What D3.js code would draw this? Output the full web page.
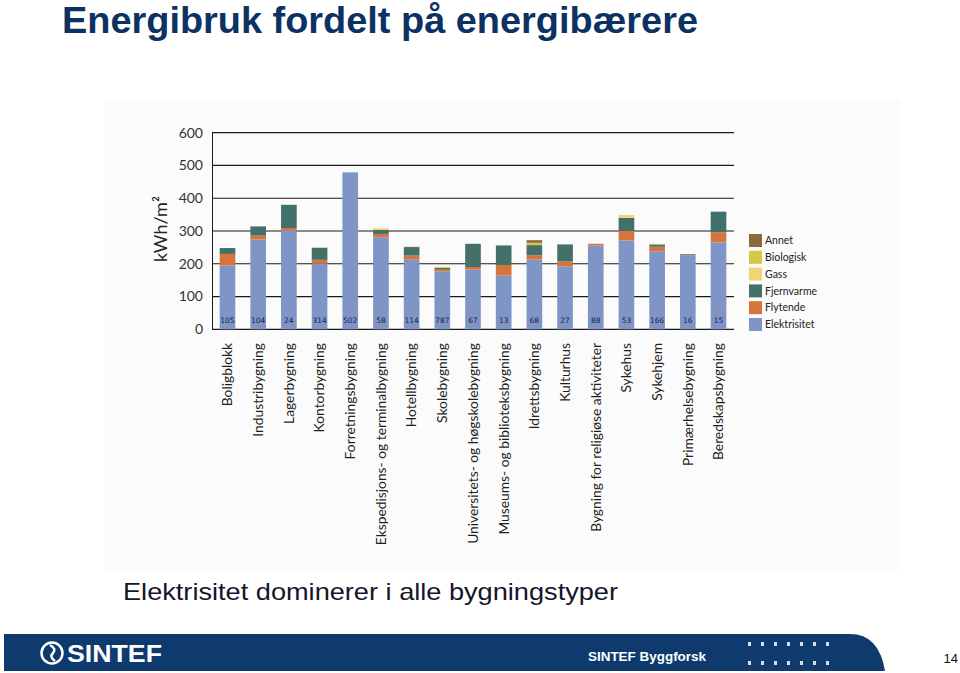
<!DOCTYPE html>
<html><head><meta charset="utf-8">
<script src="https://cdn.jsdelivr.net/npm/d3@7"></script>
<style>html,body{margin:0;padding:0;background:#fff;}svg{display:block;}</style>
</head><body>
<svg id="c" width="960" height="673"></svg>
<script>
const categories = ["Boligblokk","Industribygning","Lagerbygning","Kontorbygning","Forretningsbygning","Ekspedisjons- og terminalbygning","Hotellbygning","Skolebygning","Universitets- og høgskolebygning","Museums- og biblioteksbygning","Idrettsbygning","Kulturhus","Bygning for religiøse aktiviteter","Sykehus","Sykehjem","Primærhelsebygning","Beredskapsbygning"];
const elektrisitet = [195,274,302,200,479,281,214,176,182,164,213,192,256,271,238,226,265];
const flytende     = [35,12,7,12,0,10,11,6,8,32,13,15,5,29,14,0,31];
const fjernvarme   = [18,28,71,37,0,12,26,6,71,60,31,52,0,40,7,3,63];
const gass         = [0,0,0,0,0,5,2,3,0,0,0,0,0,9,2,0,0];
const biologisk    = [0,0,0,0,0,0,0,0,0,0,7,0,0,0,0,0,0];
const annet        = [0,0,0,0,0,0,0,0,0,0,8,0,0,0,0,0,0];
const antall       = [105,104,24,314,502,58,114,787,67,13,68,27,88,53,166,16,15];
const seriesNames  = ["Elektrisitet","Flytende","Fjernvarme","Gass","Biologisk","Annet"];
const seriesColors = ["#7f95c5","#d8733b","#44706a","#eed673","#d4c84a","#8d6a3c"];
const yTicks = [0,100,200,300,400,500,600];

const seriesArrays = [elektrisitet,flytende,fjernvarme,gass,biologisk,annet];
const rows = categories.map((c,i)=>{const r={cat:c,n:antall[i]};seriesNames.forEach((s,k)=>r[s]=seriesArrays[k][i]);return r;});

const svg = d3.select("#c");
const navy = "#0c3263";

// Title
svg.append("text").attr("x",62).attr("y",33)
  .attr("font-family","Liberation Sans, Arial, sans-serif").attr("font-weight","bold")
  .attr("font-size",36).attr("fill",navy)
  .attr("textLength",636).attr("lengthAdjust","spacingAndGlyphs")
  .text("Energibruk fordelt på energibærere");

// chart image background
svg.append("rect").attr("x",105).attr("y",100).attr("width",795).attr("height",470).attr("fill","#fbfbfb");

const x = d3.scaleBand().domain(categories).range([212,734]).paddingInner(0.49).paddingOuter(0.25);
const y = d3.scaleLinear().domain([0,600]).range([329.3,132.7]);

// grid lines
svg.append("g").selectAll("line").data(yTicks).join("line")
  .attr("x1",212).attr("x2",734).attr("y1",d=>y(d)).attr("y2",d=>y(d))
  .attr("stroke","#1a1a1a").attr("stroke-width",1.2);
svg.append("line").attr("x1",212.5).attr("x2",212.5).attr("y1",y(600)).attr("y2",y(0)).attr("stroke","#1a1a1a");

// y tick labels
svg.append("g").selectAll("text").data(yTicks).join("text")
  .attr("x",203).attr("y",d=>y(d)).attr("dy","0.35em").attr("text-anchor","end")
  .attr("font-family","Lato, sans-serif").attr("font-size",14).attr("fill","#333")
  .text(d=>d);

// y title
svg.append("text").attr("transform","translate(167,229) rotate(-90)").attr("text-anchor","middle")
  .attr("font-family","Lato, sans-serif").attr("font-size",18).attr("fill","#222")
  .text("kWh/m²");

// stacked bars
const stack = d3.stack().keys(seriesNames)(rows);
svg.append("g").selectAll("g").data(stack).join("g")
  .attr("fill",(d,i)=>seriesColors[i])
  .selectAll("rect").data(d=>d).join("rect")
  .attr("x",d=>x(d.data.cat)).attr("width",x.bandwidth())
  .attr("y",d=>y(d[1])).attr("height",d=>Math.max(0,y(d[0])-y(d[1])));

// counts
svg.append("g").selectAll("text").data(rows).join("text")
  .attr("x",d=>x(d.cat)+x.bandwidth()/2).attr("y",322.5).attr("text-anchor","middle")
  .attr("font-family","DejaVu Sans, sans-serif").attr("font-size",7.5).attr("fill","#1b1f45")
  .text(d=>d.n);

// category labels
svg.append("g").selectAll("text").data(categories).join("text")
  .attr("transform",d=>`translate(${x(d)+x.bandwidth()/2},343) rotate(-90)`)
  .attr("dy","0.35em").attr("text-anchor","end")
  .attr("font-family","Lato, sans-serif").attr("font-size",13.8).attr("fill","#1e1e1e")
  .text(d=>d);

// legend
const legOrder = seriesNames.map((s,i)=>({s,c:seriesColors[i]})).reverse();
const lg = svg.append("g").selectAll("g").data(legOrder).join("g")
  .attr("transform",(d,i)=>`translate(749,${234+i*16.8})`);
lg.append("rect").attr("width",13).attr("height",13).attr("fill",d=>d.c);
lg.append("text").attr("x",16).attr("y",6.5).attr("dy","0.35em")
  .attr("font-family","Lato, sans-serif").attr("font-size",10.5).attr("fill","#222")
  .text(d=>d.s);

// subtitle
svg.append("text").attr("x",123).attr("y",600)
  .attr("font-family","Liberation Sans, Arial, sans-serif").attr("font-size",24).attr("fill","#15152a")
  .attr("textLength",495).attr("lengthAdjust","spacingAndGlyphs")
  .text("Elektrisitet dominerer i alle bygningstyper");

// footer
svg.append("path").attr("d","M4,634 H850 Q879,634 885,671 H4 Z").attr("fill","#0e3a6e");
svg.append("circle").attr("cx",52).attr("cy",653).attr("r",10.5).attr("fill","none").attr("stroke","#fff").attr("stroke-width",2.5);
svg.append("path").attr("d","M50,645 Q57,649 53,653 Q49,657 55,661").attr("fill","none").attr("stroke","#fff").attr("stroke-width",2.5);
svg.append("text").attr("x",67).attr("y",662)
  .attr("font-family","Liberation Sans, Arial, sans-serif").attr("font-weight","bold").attr("font-size",23).attr("fill","#fff")
  .attr("textLength",95).attr("lengthAdjust","spacingAndGlyphs").text("SINTEF");
svg.append("text").attr("x",588).attr("y",661)
  .attr("font-family","Liberation Sans, Arial, sans-serif").attr("font-weight","bold").attr("font-size",13.5).attr("fill","#fff")
  .attr("textLength",118).attr("lengthAdjust","spacingAndGlyphs").text("SINTEF Byggforsk");
const dotX = d3.range(7).map(i=>748+i*13);
[642,661].forEach(yy=>{
  svg.append("g").selectAll("rect").data(dotX).join("rect")
    .attr("x",d=>d).attr("y",yy).attr("width",3).attr("height",4).attr("fill","#d8dde6");
});
svg.append("text").attr("x",958).attr("y",663).attr("text-anchor","end")
  .attr("font-family","Liberation Sans, Arial, sans-serif").attr("font-size",13).attr("fill","#111")
  .text("14");
</script>
</body></html>
